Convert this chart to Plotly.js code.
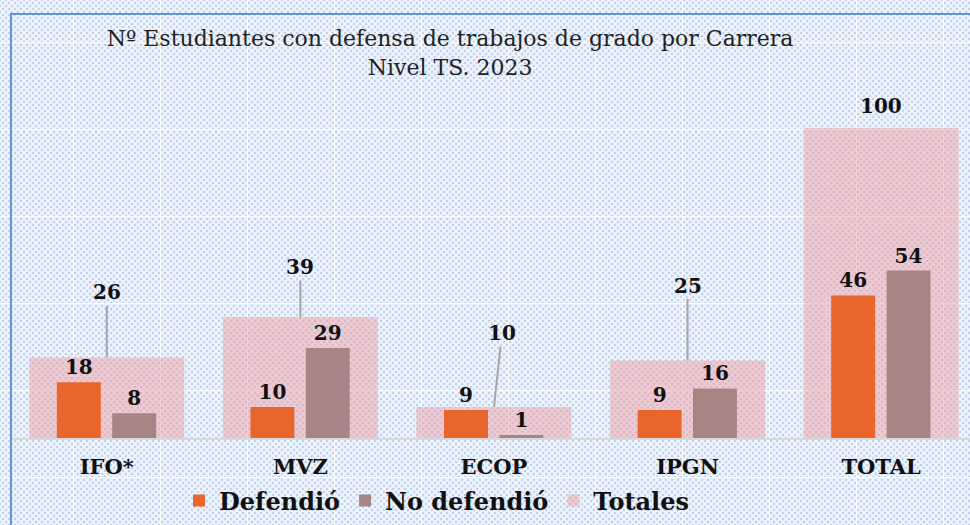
<!DOCTYPE html>
<html>
<head>
<meta charset="utf-8">
<script src="https://cdn.plot.ly/plotly-3.0.1.min.js"></script>
<style>
  html, body { margin:0; padding:0; width:970px; height:525px; overflow:hidden; }
  body {
    background-color:#f1f6fd;
    background-image:
      linear-gradient(90deg, rgba(255,255,255,0.9) 1px, transparent 1px),
      linear-gradient(0deg, rgba(255,255,255,0.9) 1px, transparent 1px),
      radial-gradient(circle, #bfd3f0 1.2px, transparent 1.7px),
      radial-gradient(circle, #bfd3f0 1.2px, transparent 1.7px);
    background-size: 87px 87px, 87px 87px, 6px 6px, 6px 6px;
    background-position: 73px 0, 0 43px, 0 0, 3px 3px;
  }
  #frame { position:absolute; left:10px; top:13px; width:970px; height:520px;
           border-left:2px solid #6593d3; border-top:2px solid #6593d3; pointer-events:none; }
  #chart { position:absolute; left:0; top:0; width:970px; height:525px; }
</style>
</head>
<body>
<div id="chart"></div>
<div id="frame"></div>
<script>
var categories = ['IFO*', 'MVZ', 'ECOP', 'IPGN', 'TOTAL'];
var defendio = [18, 10, 9, 9, 46];
var noDefendio = [8, 29, 1, 16, 54];
var totales = [26, 39, 10, 25, 100];
var seriesNames = ['Defendió', 'No defendió', 'Totales'];

var SERIF = 'DejaVu Serif, Liberation Serif, serif';

var traceTot = {
  type: 'bar', name: seriesNames[2], x: categories, y: totales,
  width: 0.8, offset: -0.4,
  marker: { color: 'rgba(240,160,165,0.5)', line: { width: 0 } },
  hoverinfo: 'x+y', legendrank: 3
};
var traceDef = {
  type: 'bar', name: seriesNames[0], x: categories, y: defendio,
  width: 0.227, offset: -0.258,
  marker: { color: '#E8652B', line: { width: 0 } },
  text: defendio.map(String), textposition: 'outside', cliponaxis: false,
  constraintext: 'none',
  textfont: { family: SERIF, size: 20, color: '#111', weight: 'bold' },
  hoverinfo: 'x+y', legendrank: 1
};
var traceNo = {
  type: 'bar', name: seriesNames[1], x: categories, y: noDefendio,
  width: 0.227, offset: 0.028,
  marker: { color: '#A78584', line: { width: 0 } },
  text: noDefendio.map(String), textposition: 'outside', cliponaxis: false,
  constraintext: 'none',
  textfont: { family: SERIF, size: 20, color: '#111', weight: 'bold' },
  hoverinfo: 'x+y', legendrank: 2
};

// leader-line offsets (pixels) for the total labels
var leaderAx = [0, 0, 8, 0, 0];
var leaderAy = [-65, -50, -74, -75, -22];
var annotations = categories.map(function (c, i) {
  var a = {
    x: c, y: totales[i], xref: 'x', yref: 'y',
    text: String(totales[i]),
    font: { family: SERIF, size: 20, color: '#111', weight: 'bold' },
    showarrow: i !== 4, arrowhead: 0, arrowwidth: 2, arrowcolor: '#A6A6A6',
    ax: leaderAx[i], ay: leaderAy[i], standoff: 0
  };
  if (i === 4) { a.yshift = -leaderAy[i]; }
  return a;
});

var layout = {
  width: 970, height: 525,
  margin: { l: 10, r: 0, t: 97, b: 87, pad: 0 },
  paper_bgcolor: 'rgba(0,0,0,0)', plot_bgcolor: 'rgba(0,0,0,0)',
  barmode: 'overlay',
  title: {
    text: 'Nº Estudiantes con defensa de trabajos de grado por Carrera<br>Nivel TS. 2023',
    font: { family: SERIF, size: 22, color: '#222' },
    xref: 'container', x: 0.464, xanchor: 'center',
    yref: 'container', y: 1 - 46 / 525, yanchor: 'top'
  },
  xaxis: {
    type: 'category', range: [-0.5, 4.459],
    showgrid: false, zeroline: false,
    showline: true, linecolor: '#D9D9D9', linewidth: 2,
    ticks: '', ticklabelstandoff: 9,
    tickfont: { family: SERIF, size: 21, color: '#111', weight: 'bold' },
    fixedrange: true
  },
  yaxis: { range: [0, 110], visible: false, showgrid: false, zeroline: false, fixedrange: true },
  showlegend: true,
  legend: {
    orientation: 'h', xref: 'container', yref: 'container',
    x: 0.45, xanchor: 'center', y: 1 - 501 / 525, yanchor: 'middle',
    font: { family: SERIF, size: 24, color: '#111', weight: 'bold' },
    bgcolor: 'rgba(0,0,0,0)', itemclick: false, itemdoubleclick: false
  },
  annotations: annotations
};

Plotly.newPlot('chart', [traceTot, traceDef, traceNo], layout, { displayModeBar: false, staticPlot: true });
</script>
</body>
</html>
